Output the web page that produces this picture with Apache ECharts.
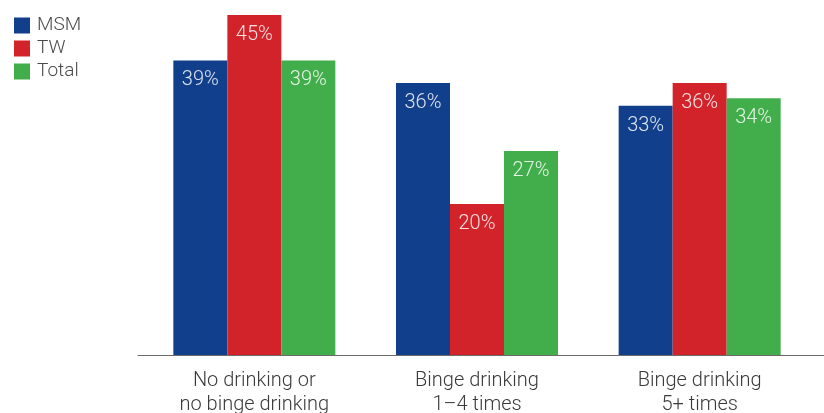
<!DOCTYPE html>
<html>
<head>
<meta charset="utf-8">
<script src="https://cdn.jsdelivr.net/npm/echarts@6/dist/echarts.min.js"></script>
<style>
  html, body { margin: 0; padding: 0; background: #ffffff; }
  #chart { width: 824px; height: 413px; }
</style>
</head>
<body>
<div id="chart"></div>
<script>
// Binge drinking frequency by group (percent)
const categories = ['No drinking or\nno binge drinking', 'Binge drinking\n1–4 times', 'Binge drinking\n5+ times'];
const seriesNames = ['MSM', 'TW', 'Total'];
const msmValues = [39, 36, 33];
const twValues = [45, 20, 36];
const totalValues = [39, 27, 34];
const seriesColors = ['#123f8b', '#d2232b', '#42ae4b'];

const FONT = 'Roboto, "Open Sans", sans-serif';

const chart = echarts.init(document.getElementById('chart'), null, { renderer: 'canvas' });

function barSeries(name, values, color) {
  return {
    name: name,
    type: 'bar',
    xAxisIndex: 0,
    yAxisIndex: 0,
    data: values,
    barWidth: 54,
    barGap: '0%',
    itemStyle: { color: color },
    label: {
      show: true,
      position: 'insideTop',
      distance: 10,
      formatter: '{c}%',
      color: 'rgba(255,255,255,0.86)',
      fontFamily: FONT,
      fontWeight: 300,
      fontSize: 20
    },
    emphasis: { disabled: true }
  };
}

chart.setOption({
  animation: false,
  textStyle: { fontFamily: FONT },
  legend: {
    orient: 'vertical',
    left: 14,
    top: 16,
    padding: 0,
    itemWidth: 16,
    itemHeight: 16,
    itemGap: 4,
    icon: 'rect',
    data: seriesNames,
    textStyle: {
      color: '#4a4a4a',
      fontFamily: FONT,
      fontWeight: 300,
      fontSize: 19,
      lineHeight: 16,
      padding: [0, 0, 0, 2]
    }
  },
  grid: [
    { left: 143, right: 13, top: 0, bottom: 58, outerBoundsMode: 'none', containLabel: false },
    { left: 138, right: 0, top: 0, bottom: 58, outerBoundsMode: 'none', containLabel: false }
  ],
  xAxis: [
    {
      type: 'category',
      gridIndex: 0,
      data: categories,
      axisLine: { show: false },
      axisTick: { show: false },
      axisLabel: {
        margin: 14,
        color: '#3a3a3a',
        fontFamily: FONT,
        fontWeight: 300,
        fontSize: 20,
        lineHeight: 24
      }
    },
    {
      // baseline spanning the full plotting width
      type: 'value',
      gridIndex: 1,
      min: 0,
      max: 1,
      axisLine: { show: true, lineStyle: { color: '#6b6b6b', width: 1 } },
      axisTick: { show: false },
      axisLabel: { show: false },
      splitLine: { show: false }
    }
  ],
  yAxis: [
    {
      type: 'value',
      gridIndex: 0,
      min: 0,
      max: 47,
      show: false
    },
    {
      type: 'value',
      gridIndex: 1,
      min: 0,
      max: 1,
      show: false
    }
  ],
  series: [
    barSeries(seriesNames[0], msmValues, seriesColors[0]),
    barSeries(seriesNames[1], twValues, seriesColors[1]),
    barSeries(seriesNames[2], totalValues, seriesColors[2])
  ]
});
</script>
</body>
</html>
